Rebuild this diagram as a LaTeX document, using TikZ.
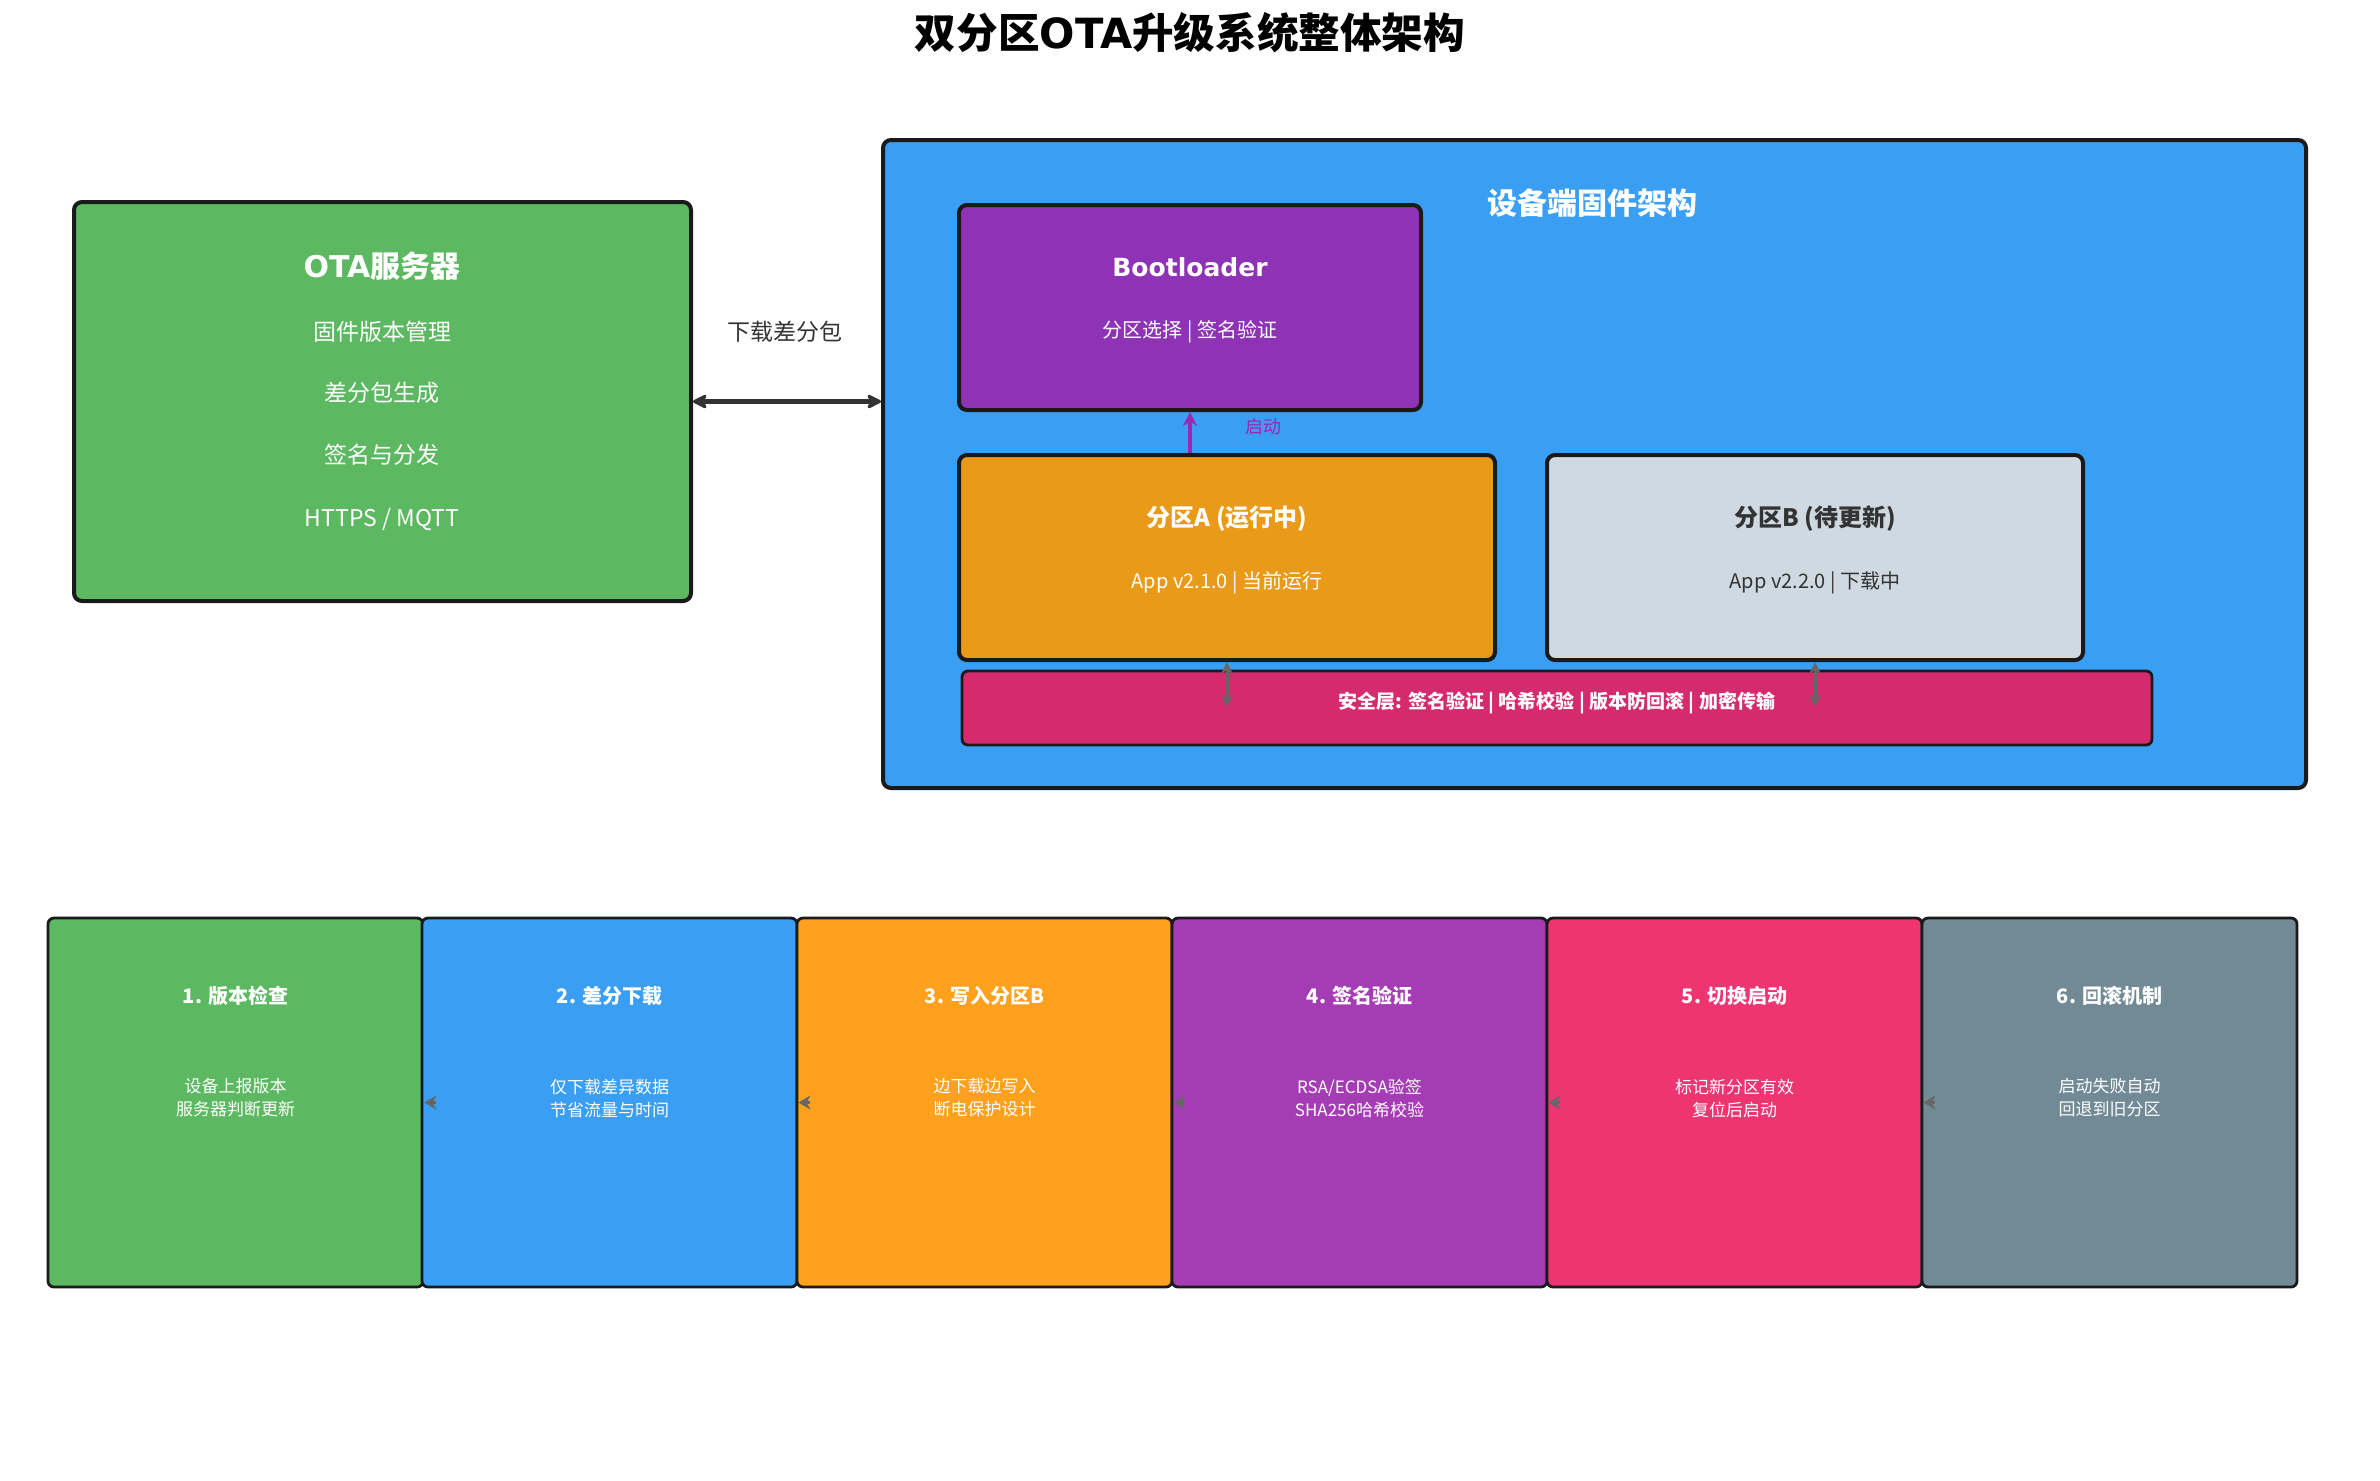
\documentclass[tikz,border=0pt]{standalone}
\usepackage{fontspec}
\setmainfont{Noto Sans CJK SC}
\newfontfamily\dv{DejaVu Sans}
\usetikzlibrary{arrows.meta,fit}
\definecolor{cgreen}{HTML}{5DB862}
\definecolor{cblue}{HTML}{3A9FF3}
\definecolor{cboot}{HTML}{8E33B6}
\definecolor{cpa}{HTML}{E99A19}
\definecolor{cpb}{HTML}{CFD9E2}
\definecolor{csec}{HTML}{D52B6E}
\definecolor{corange}{HTML}{FFA11D}
\definecolor{cpurple}{HTML}{A53CB6}
\definecolor{cpink}{HTML}{EC3571}
\definecolor{cgray}{HTML}{718A95}
\definecolor{cborder}{HTML}{1A1A1A}
\definecolor{cdark}{HTML}{333333}
\definecolor{carrow}{HTML}{666666}
\definecolor{cparrow}{HTML}{9C27B0}
\begin{document}
\begin{tikzpicture}[x=0.5pt,y=-0.5pt,
  bigbox/.style={draw=cborder,line width=2pt,rounded corners=4pt,inner sep=0pt},
  smallbox/.style={draw=cborder,line width=1.4pt,rounded corners=3pt,inner sep=0pt},
  wt/.style={text=white,inner sep=1pt,align=center},
  dk/.style={text=cdark,inner sep=1pt,align=center},
  fttl/.style={font=\fontsize{20.8}{25}\selectfont\bfseries},
  fbig/.style={font=\fontsize{15}{18}\selectfont\bfseries},
  fmid/.style={font=\fontsize{12}{14}\selectfont\bfseries},
  fsub/.style={font=\fontsize{11.5}{14}\selectfont},
  fsm/.style={font=\fontsize{10}{12}\selectfont},
  fstep/.style={font=\fontsize{10}{12}\selectfont\bfseries},
  fdesc/.style={font=\fontsize{8.5}{11.5}\selectfont},
  bigarrow/.style={{Stealth[length=9pt,width=9pt,round]}-{Stealth[length=9pt,width=9pt,round]},draw=cdark,line width=2.5pt},
  grayarrow/.style={{Stealth[length=6pt,width=6pt]}-{Stealth[length=6pt,width=6pt]},draw=carrow,line width=1.5pt},
  bootarrow/.style={-{Stealth[length=7pt,width=7pt]},draw=cparrow,line width=2pt},
  steparrow/.style={-{Stealth[length=6pt,width=7pt]},draw=carrow,line width=1.6pt}
]
\useasboundingbox (0,0) rectangle (2380,1480);
\fill[white] (0,0) rectangle (2380,1480);

% title
\node[text=black,fttl] (title) at (1190,33) {双分区{\dv\bfseries OTA}升级系统整体架构};

% OTA server
\coordinate (o1) at (74,202); \coordinate (o2) at (691,601);
\node[bigbox,fill=cgreen,fit=(o1)(o2)] (ota) {};
\node[wt,fbig] (otat) at (382,266) {{\dv\bfseries OTA}服务器};
\node[wt,fsub] (otal1) at (382,332) {固件版本管理};
\node[wt,fsub] (otal2) at (382,393) {差分包生成};
\node[wt,fsub] (otal3) at (382,455) {签名与分发};
\node[wt,fsub] (otal4) at (382,519) {HTTPS / MQTT};

% device
\coordinate (d1) at (883,140); \coordinate (d2) at (2306,788);
\node[bigbox,fill=cblue,fit=(d1)(d2)] (dev) {};
\node[wt,fbig] (devt) at (1592,203) {设备端固件架构};

\node[dk,fsub] (dl) at (785,332) {下载差分包};
\draw[bigarrow] (ota.east) -- (dev.west |- ota.east);

% bootloader
\coordinate (b1) at (959,205); \coordinate (b2) at (1421,410);
\node[bigbox,fill=cboot,fit=(b1)(b2)] (boot) {};
\node[wt,font=\dv\fontsize{12.5}{15}\selectfont\bfseries] (boott) at (1190,267) {Bootloader};
\node[wt,fsm] (boots) at (1190,332) {分区选择 | 签名验证};

% partition A
\coordinate (a1) at (959,455); \coordinate (a2) at (1495,660);
\node[bigbox,fill=cpa,fit=(a1)(a2)] (pa) {};
\node[wt,fmid] (pat) at (1227,519) {分区A (运行中)};
\node[wt,fsm] (pas) at (1227,583) {App v2.1.0 | 当前运行};

% partition B
\coordinate (p1) at (1547,455); \coordinate (p2) at (2083,660);
\node[bigbox,fill=cpb,fit=(p1)(p2)] (pb) {};
\node[dk,fmid] (pbt) at (1815,519) {分区B (待更新)};
\node[dk,fsm] (pbs) at (1815,583) {App v2.2.0 | 下载中};

% security
\coordinate (s1) at (962,671); \coordinate (s2) at (2152,745);
\node[smallbox,fill=csec,fit=(s1)(s2)] (sec) {};
\node[wt,font=\fontsize{9.5}{12}\selectfont\bfseries] (sect) at (1557,703) {安全层: 签名验证 | 哈希校验 | 版本防回滚 | 加密传输};

% arrows in device
\draw[bootarrow] (pa.north -| boot.south) -- (boot.south);
\node[text=cparrow,font=\fontsize{9}{11}\selectfont,inner sep=1pt] (qd) at (1263,427) {启动};
\coordinate (ea) at (1227,707);
\coordinate (eb) at (1815,707);
\draw[grayarrow] (pa.south) -- (ea);
\draw[grayarrow] (pb.south) -- (eb);

% bottom steps
\foreach \i/\c/\col/\t/\da/\db in {
  1/235.5/cgreen/{1. 版本检查}/{设备上报版本}/{服务器判断更新},
  2/609.5/cblue/{2. 差分下载}/{仅下载差异数据}/{节省流量与时间},
  3/984.5/corange/{3. 写入分区B}/{边下载边写入}/{断电保护设计},
  4/1359.5/cpurple/{4. 签名验证}/{RSA/ECDSA验签}/{SHA256哈希校验},
  5/1734.5/cpink/{5. 切换启动}/{标记新分区有效}/{复位后启动},
  6/2109.5/cgray/{6. 回滚机制}/{启动失败自动}/{回退到旧分区}}{
  \coordinate (c\i a) at ({\c-187.5},918);
  \coordinate (c\i b) at ({\c+187.5},1287);
  \node[smallbox,fill=\col,fit=(c\i a)(c\i b)] (st\i) {};
  \node[wt,fstep] (st\i t) at (\c,996) {\t};
  \node[wt,fdesc] (st\i d) at (\c,1098) {\da\\\db};
}
\foreach \i/\j in {1/2,2/3,3/4,4/5,5/6}{
  \coordinate (m\i) at ([xshift=6pt]st\i.east);
  \draw[steparrow] (m\i) -- (st\i.east);
}
\end{tikzpicture}
\end{document}
